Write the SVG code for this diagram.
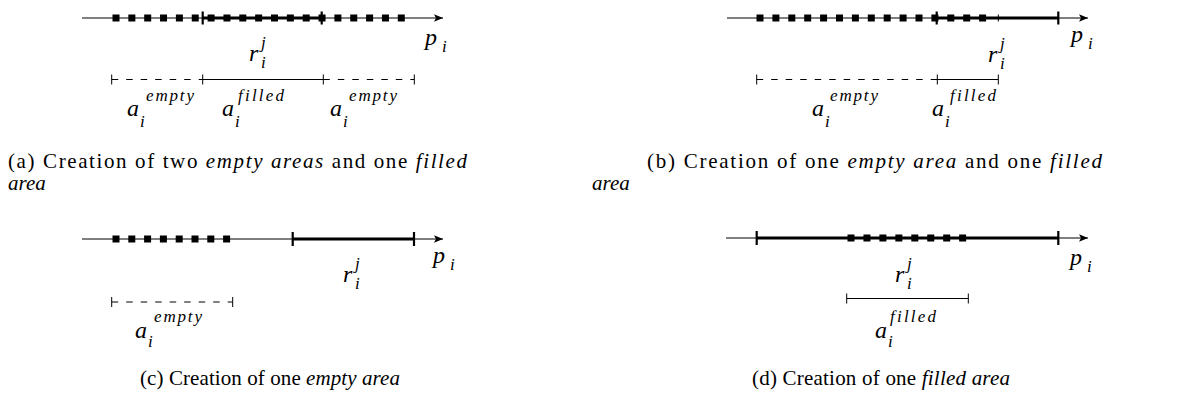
<svg xmlns="http://www.w3.org/2000/svg" width="1190" height="410" viewBox="0 0 1190 410">
<style>
.ax{stroke:#000;stroke-width:1;fill:none}
.thick{stroke:#000;stroke-width:3}
.tk{stroke:#000;stroke-width:2.2}
.dots{stroke:#000;stroke-width:7;fill:none}
.iv{stroke:#000;stroke-width:1;fill:none}
.ivt{stroke:#000;stroke-width:1}
.dash{stroke-dasharray:6.5 8}
.m{font-family:"Liberation Serif","Times New Roman",serif;font-style:italic;font-size:24px;fill:#000}
.s{font-size:17px}
.cap{font-family:"Liberation Serif","Times New Roman",serif;font-size:21px;fill:#000}
.it{font-style:italic}
</style>
<defs>
<marker id="arr" markerUnits="userSpaceOnUse" markerWidth="12" markerHeight="10" refX="10" refY="5" orient="auto">
<path d="M1,1.2 L10,5 L1,8.8 L3,5 Z" fill="#000"/>
</marker>
</defs>
<rect width="1190" height="410" fill="#fff"/>

<g id="panel-a">
<line class="ax" x1="82" y1="18" x2="443" y2="18" marker-end="url(#arr)"/>
<line class="dots" x1="112.5" y1="18" x2="404.8" y2="18" stroke-dasharray="7 8.85"/>
<line class="thick" x1="202.7" y1="18" x2="321.7" y2="18"/>
<line class="tk" x1="202.7" y1="11.5" x2="202.7" y2="24.5"/>
<line class="tk" x1="321.7" y1="11.5" x2="321.7" y2="24.5"/>
<text class="m" x="425" y="45">p</text><text class="m s" x="442" y="52">i</text>
<text class="m" x="249" y="61">r</text><text class="m s" x="261" y="48">j</text><text class="m s" x="261" y="68">i</text>
<line class="iv dash" x1="111.7" y1="79.5" x2="202.7" y2="79.5"/>
<line class="iv" x1="202.7" y1="79.5" x2="323.3" y2="79.5"/>
<line class="iv dash" x1="323.3" y1="79.5" x2="414.3" y2="79.5"/>
<line class="ivt" x1="111.7" y1="74.5" x2="111.7" y2="84.5"/>
<line class="ivt" x1="202.7" y1="74.5" x2="202.7" y2="84.5"/>
<line class="ivt" x1="323.3" y1="74.5" x2="323.3" y2="84.5"/>
<line class="ivt" x1="414.3" y1="74.5" x2="414.3" y2="84.5"/>
<text class="m" x="127" y="116">a</text><text class="m s" x="146" y="101" textLength="48">empty</text><text class="m s" x="140" y="127">i</text>
<text class="m" x="222" y="116">a</text><text class="m s" x="238" y="101" textLength="46">filled</text><text class="m s" x="235" y="127">i</text>
<text class="m" x="330" y="116">a</text><text class="m s" x="349" y="101" textLength="48">empty</text><text class="m s" x="343" y="127">i</text>
<text class="cap" x="8" y="168" textLength="459">(a) Creation of two <tspan class="it">empty areas</tspan> and one <tspan class="it">filled</tspan></text>
<text class="cap it" x="8" y="190">area</text>
</g>

<g id="panel-b">
<line class="ax" x1="727" y1="18" x2="1088" y2="18" marker-end="url(#arr)"/>
<line class="dots" x1="756.5" y1="18" x2="986.1" y2="18" stroke-dasharray="7 8.9"/>
<line class="thick" x1="936.7" y1="18" x2="1058.3" y2="18"/>
<line class="tk" x1="936.7" y1="11.5" x2="936.7" y2="24.5"/>
<line class="tk" x1="1058.3" y1="11.5" x2="1058.3" y2="24.5"/>
<line class="ivt" x1="998.3" y1="14.5" x2="998.3" y2="21.5"/>
<text class="m" x="1071" y="42">p</text><text class="m s" x="1088" y="49">i</text>
<text class="m" x="988" y="62">r</text><text class="m s" x="1000" y="49">j</text><text class="m s" x="1000" y="69">i</text>
<line class="iv dash" x1="756.7" y1="79.5" x2="937.3" y2="79.5"/>
<line class="iv" x1="937.3" y1="79.5" x2="998.3" y2="79.5"/>
<line class="ivt" x1="756.7" y1="74.5" x2="756.7" y2="84.5"/>
<line class="ivt" x1="937.3" y1="74.5" x2="937.3" y2="84.5"/>
<line class="ivt" x1="998.3" y1="74.5" x2="998.3" y2="84.5"/>
<text class="m" x="812" y="116">a</text><text class="m s" x="830" y="101" textLength="48">empty</text><text class="m s" x="825" y="127">i</text>
<text class="m" x="932" y="116">a</text><text class="m s" x="950" y="101" textLength="46">filled</text><text class="m s" x="945" y="127">i</text>
<text class="cap" x="647" y="168" textLength="455">(b) Creation of one <tspan class="it">empty area</tspan> and one <tspan class="it">filled</tspan></text>
<text class="cap it" x="592" y="190">area</text>
</g>

<g id="panel-c">
<line class="ax" x1="82" y1="239" x2="443" y2="239" marker-end="url(#arr)"/>
<line class="dots" x1="112.5" y1="239" x2="230.1" y2="239" stroke-dasharray="7 8.8"/>
<line class="thick" x1="292.7" y1="239" x2="414" y2="239"/>
<line class="tk" x1="292.7" y1="232" x2="292.7" y2="246"/>
<line class="tk" x1="414" y1="232" x2="414" y2="246"/>
<text class="m" x="433" y="263">p</text><text class="m s" x="450" y="270">i</text>
<text class="m" x="343" y="282">r</text><text class="m s" x="355" y="269">j</text><text class="m s" x="355" y="289">i</text>
<line class="iv dash" x1="111.7" y1="302" x2="232.7" y2="302"/>
<line class="ivt" x1="111.7" y1="297" x2="111.7" y2="307"/>
<line class="ivt" x1="232.7" y1="297" x2="232.7" y2="307"/>
<text class="m" x="135" y="338">a</text><text class="m s" x="154" y="322" textLength="48">empty</text><text class="m s" x="148" y="347">i</text>
<text class="cap" x="140" y="385" textLength="260">(c) Creation of one <tspan class="it">empty area</tspan></text>
</g>

<g id="panel-d">
<line class="ax" x1="726" y1="238" x2="1088" y2="238" marker-end="url(#arr)"/>
<line class="thick" x1="756.7" y1="238" x2="1058.3" y2="238"/>
<line class="dots" x1="847.5" y1="238" x2="966.2" y2="238" stroke-dasharray="7 8.95"/>
<line class="tk" x1="756.7" y1="231" x2="756.7" y2="245"/>
<line class="tk" x1="1058.3" y1="231" x2="1058.3" y2="245"/>
<text class="m" x="1070" y="265">p</text><text class="m s" x="1087" y="272">i</text>
<text class="m" x="895" y="282">r</text><text class="m s" x="907" y="269">j</text><text class="m s" x="907" y="289">i</text>
<line class="iv" x1="846.7" y1="298.5" x2="968.3" y2="298.5"/>
<line class="ivt" x1="846.7" y1="293.5" x2="846.7" y2="303.5"/>
<line class="ivt" x1="968.3" y1="293.5" x2="968.3" y2="303.5"/>
<text class="m" x="875" y="338">a</text><text class="m s" x="890" y="322" textLength="46">filled</text><text class="m s" x="888" y="347">i</text>
<text class="cap" x="752" y="385" textLength="258">(d) Creation of one <tspan class="it">filled area</tspan></text>
</g>
</svg>
